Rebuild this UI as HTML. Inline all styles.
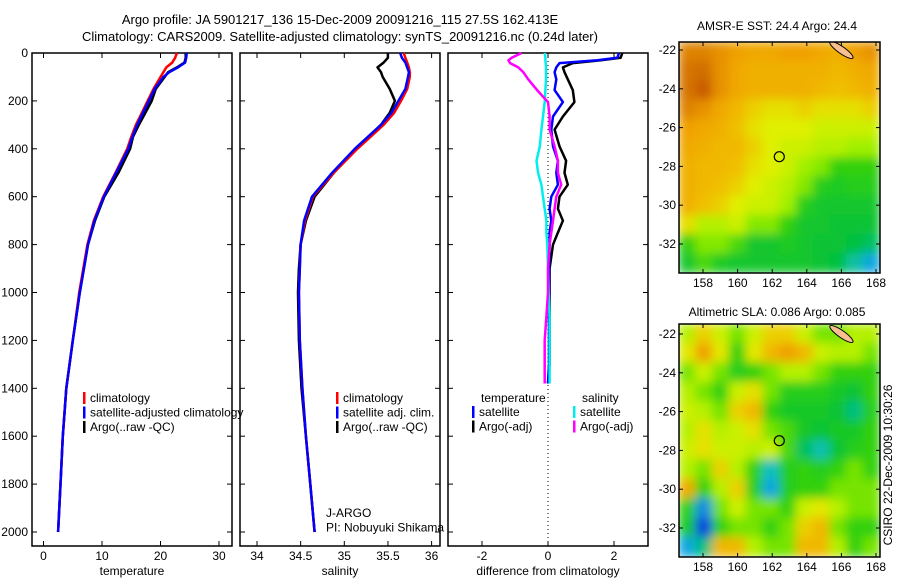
<!DOCTYPE html>
<html><head><meta charset="utf-8"><style>
body{margin:0;background:#fff}
svg{display:block;font-family:"Liberation Sans",sans-serif;font-size:12px}
</style></head><body>
<svg id="fig" width="900" height="580" viewBox="0 0 900 580">
<defs>
<filter id="blur" x="0" y="0" width="1" height="1"><feGaussianBlur stdDeviation="5" edgeMode="duplicate"/></filter>
<clipPath id="c1"><rect x="679" y="42" width="201" height="231"/></clipPath>
<clipPath id="c2"><rect x="679" y="324" width="201" height="233"/></clipPath>
</defs>
<text x="340" y="24" text-anchor="middle" font-size="13">Argo profile: JA 5901217_136 15-Dec-2009 20091216_115 27.5S 162.413E</text>
<text x="340" y="41" text-anchor="middle" font-size="13">Climatology: CARS2009. Satellite-adjusted climatology: synTS_20091216.nc (0.24d later)</text>
<g id="plots"></g>
<text x="777" y="30" text-anchor="middle">AMSR-E SST: 24.4  Argo: 24.4</text>
<text x="777" y="316" text-anchor="middle">Altimetric SLA: 0.086  Argo: 0.085</text>
<text transform="translate(892,465) rotate(-90)" text-anchor="middle">CSIRO 22-Dec-2009 10:30:26</text>
</svg>
<script>
const depth=[0,20,40,60,80,100,150,200,250,300,350,400,500,600,700,800,900,1000,1200,1400,1600,1800,2000];
const tClim=[22.8,22.5,22,21,20.5,20,18.8,17.8,16.8,15.8,15,14.3,12.3,10.2,8.6,7.5,6.8,6.1,5,3.9,3.3,2.9,2.5];
const tSat=[24.5,24.4,24.2,23,21.5,20.5,19,18,17,16,15.2,14.5,12.4,10.3,8.7,7.6,6.9,6.2,5,3.9,3.3,2.9,2.5];
const tArgo=[24.3,24.3,24.1,22.8,21.3,20.7,19.2,18.5,17.4,16.3,15.3,14.8,12.8,10.4,8.8,7.6,6.9,6.2,5,3.9,3.3,2.9,2.5];
const sClim=[35.68,35.7,35.72,35.74,35.75,35.75,35.72,35.65,35.57,35.45,35.3,35.15,34.88,34.64,34.55,34.5,34.49,34.48,34.49,34.52,34.56,34.61,34.66];
const sSat=[35.64,35.66,35.7,35.72,35.74,35.73,35.7,35.62,35.54,35.42,35.27,35.12,34.86,34.63,34.54,34.5,34.49,34.48,34.49,34.52,34.56,34.61,34.66];
const sArgo=[35.5,35.5,35.45,35.38,35.42,35.44,35.52,35.58,35.52,35.42,35.28,35.13,34.88,34.66,34.56,34.5,34.48,34.47,34.48,34.51,34.56,34.61,34.66];
const dDepth=[0,20,30,42,60,80,110,155,205,265,320,390,450,500,550,600,650,700,750,800,900,1000,1100,1200,1300,1380];
const dTArgo=[2.25,2.2,1.6,0.75,0.45,0.5,0.6,0.75,0.8,0.45,0.2,0.35,0.55,0.5,0.6,0.35,0.3,0.45,0.3,0.15,0.05,0.05,0.05,0.05,0.05,0];
const dTSat=[2.15,2.1,1.5,0.35,0.25,0.2,0.25,0.2,0.45,0.15,0.1,0.15,0.3,0.25,0.3,0.1,0.05,0.1,0.05,0.05,0.03,0.03,0.03,0.03,0.03,0];
const dSArgo=[-0.8,-1.1,-1.2,-1.15,-0.9,-0.75,-0.6,-0.33,0,0.05,0.05,0.2,0.3,0.3,0.4,0.25,0.2,0.15,0.1,0.05,0,0,-0.05,-0.1,-0.1,-0.1];
const dSSat=[-0.1,-0.08,-0.08,-0.07,-0.06,-0.06,-0.06,-0.08,-0.1,-0.15,-0.2,-0.25,-0.35,-0.3,-0.2,-0.15,-0.1,-0.05,-0.05,-0.02,0,0.02,0.05,0.05,0.05,0.05];
const depthTicks=[0,200,400,600,800,1000,1200,1400,1600,1800,2000];
const tTicks=[0,10,20,30];
const sTicks=[34,34.5,35,35.5,36];
const dTicks=[-2,0,2];
const lonTicks=[158,160,162,164,166,168];
const latTicks1=[-22,-24,-26,-28,-30,-32];
const latTicks2=[-22,-24,-26,-28,-30,-32];
const sstGrid=[
[.82,.82,.8,.78,.76,.76,.78,.78,.76,.74,.78,.8],
[.84,.85,.8,.76,.74,.74,.74,.74,.74,.72,.74,.76],
[.84,.88,.8,.76,.74,.74,.74,.74,.72,.7,.72,.74],
[.82,.8,.76,.72,.68,.66,.66,.68,.66,.66,.66,.68],
[.78,.76,.74,.7,.66,.64,.64,.64,.62,.62,.62,.62],
[.76,.74,.72,.72,.68,.64,.62,.62,.6,.6,.58,.58],
[.74,.72,.72,.7,.66,.64,.62,.58,.56,.5,.5,.5],
[.74,.72,.7,.68,.64,.62,.6,.56,.48,.46,.48,.48],
[.74,.7,.68,.64,.62,.62,.58,.48,.44,.44,.44,.44],
[.66,.6,.6,.62,.56,.56,.5,.44,.44,.42,.42,.42],
[.5,.56,.56,.52,.44,.44,.46,.44,.42,.42,.4,.38],
[.44,.52,.46,.44,.44,.44,.44,.44,.42,.4,.34,.28]];
const slaGrid=[
[.6,.68,.62,.55,.62,.68,.68,.62,.55,.55,.6,.6],
[.65,.78,.65,.5,.65,.72,.78,.72,.62,.6,.6,.55],
[.55,.62,.55,.48,.5,.55,.6,.6,.55,.5,.5,.5],
[.6,.55,.5,.62,.66,.55,.48,.48,.48,.45,.42,.5],
[.62,.6,.55,.68,.72,.5,.45,.45,.45,.42,.36,.48],
[.6,.66,.6,.62,.66,.55,.52,.45,.42,.45,.45,.5],
[.62,.66,.62,.62,.6,.62,.52,.38,.33,.42,.48,.5],
[.6,.55,.68,.6,.5,.32,.48,.5,.48,.5,.55,.5],
[.75,.5,.6,.68,.48,.28,.48,.5,.5,.55,.55,.55],
[.5,.26,.55,.62,.55,.55,.5,.62,.65,.6,.55,.55],
[.45,.2,.5,.55,.55,.5,.55,.68,.72,.55,.5,.5],
[.28,.36,.72,.72,.6,.55,.55,.72,.72,.6,.5,.55]];

const NS='http://www.w3.org/2000/svg';
const root=document.getElementById('plots');
function mk(tag,attrs,parent){const e=document.createElementNS(NS,tag);for(const k in attrs)e.setAttribute(k,attrs[k]);(parent||root).appendChild(e);return e;}
const Y0=53,Y1=532,BOT=546;
const yD=d=>Y0+(Y1-Y0)*d/2000;
const panels=[
 {x0:32,x1:232,sx:v=>43.5+5.85*v,ticks:tTicks,label:'temperature',name:'temperature'},
 {x0:240,x1:440,sx:v=>257+87.3*(v-34),ticks:sTicks,label:'salinity',name:'salinity'},
 {x0:448,x1:648,sx:v=>548+33*v,ticks:dTicks,label:'difference from climatology',name:'difference'}];
function line(xs,ds,sx,color,name,g){
 const p=mk('polyline',{points:xs.map((v,i)=>sx(v).toFixed(1)+','+yD(ds[i]).toFixed(1)).join(' '),fill:'none',stroke:color,'stroke-width':2.5,'stroke-linejoin':'round'},g);
 
 
}
panels.forEach((P,pi)=>{
 const g=mk('g',{});
 
 
 mk('rect',{x:P.x0,y:Y0,width:P.x1-P.x0,height:BOT-Y0,fill:'none',stroke:'#000','stroke-width':1.5},g);
 depthTicks.forEach(d=>{
  mk('line',{x1:P.x0,x2:P.x0+5,y1:yD(d),y2:yD(d),stroke:'#000'},g);
  mk('line',{x1:P.x1-5,x2:P.x1,y1:yD(d),y2:yD(d),stroke:'#000'},g);
  if(pi===0){const t=mk('text',{x:28,y:yD(d)+4,'text-anchor':'end'},g);t.textContent=d;
   
   }
 });
 P.ticks.forEach(v=>{
  const x=P.sx(v);
  mk('line',{x1:x,x2:x,y1:BOT,y2:BOT-5,stroke:'#000'},g);
  mk('line',{x1:x,x2:x,y1:Y0,y2:Y0+5,stroke:'#000'},g);
  const t=mk('text',{x:x,y:560,'text-anchor':'middle'},g);t.textContent=v;
  
  
 });
 const xl=mk('text',{x:(P.x0+P.x1)/2,y:575,'text-anchor':'middle'},g);xl.textContent=P.label;
 
 
 if(pi===0){line(tArgo,depth,P.sx,'#000','temp-argo-line',g);line(tClim,depth,P.sx,'#f00','temp-climatology-line',g);line(tSat,depth,P.sx,'#00f','temp-satellite-line',g);}
 if(pi===1){line(sArgo,depth,P.sx,'#000','sal-argo-line',g);line(sClim,depth,P.sx,'#f00','sal-climatology-line',g);line(sSat,depth,P.sx,'#00f','sal-satellite-line',g);}
 if(pi===2){
  mk('line',{x1:P.sx(0),x2:P.sx(0),y1:Y0,y2:BOT,stroke:'#000','stroke-dasharray':'1,3'},g);
  line(dTArgo,dDepth,P.sx,'#000','dtemp-argo-line',g);
  line(dTSat,dDepth,P.sx,'#00f','dtemp-satellite-line',g);
  line(dSSat,dDepth,P.sx,'#0ee','dsal-satellite-line',g);
  line(dSArgo,dDepth,P.sx,'#f0f','dsal-argo-line',g);
 }
});
function legend(x,y,items,name){
 const g=mk('g',{});
 
 
 items.forEach((it,i)=>{
  if(it[1])mk('rect',{x:x,y:y+i*14.5-10,width:2.5,height:12,fill:it[1]},g);
  const t=mk('text',{x:x+(it[1]?7:0),y:y+i*14.5},g);t.textContent=it[0];
 });
}
legend(83,402,[['climatology','#f00'],['satellite-adjusted climatology','#00f'],['Argo(..raw -QC)','#000']],'temp-legend');
legend(336,402,[['climatology','#f00'],['satellite adj. clim.','#00f'],['Argo(..raw -QC)','#000']],'sal-legend');
legend(481,402,[['temperature',null]],'diff-legend-temp-head');
legend(472,416,[['satellite','#00f'],['Argo(-adj)','#000']],'diff-legend-temp');
legend(582,402,[['salinity',null]],'diff-legend-sal-head');
legend(573,416,[['satellite','#0ee'],['Argo(-adj)','#f0f']],'diff-legend-sal');
legend(326,517,[['J-ARGO',null],['PI: Nobuyuki Shikama',null]],'pi-label');

function cmap(v){
 const s=[[.2,[16,64,224]],[.3,[16,192,224]],[.4,[0,192,64]],[.5,[48,208,16]],[.58,[160,240,0]],[.64,[224,240,0]],[.7,[240,192,0]],[.78,[240,160,0]],[.85,[208,110,0]],[.92,[190,64,0]]];
 if(v<=s[0][0])return 'rgb('+s[0][1]+')';
 for(let i=1;i<s.length;i++){if(v<=s[i][0]){const f=(v-s[i-1][0])/(s[i][0]-s[i-1][0]);const c=s[i-1][1].map((a,k)=>Math.round(a+(s[i][1][k]-a)*f));return 'rgb('+c+')';}}
 return 'rgb('+s[s.length-1][1]+')';
}
function map(grid,x0,y0,w,h,lat22,lat32,clip,lats,name){
 const g=mk('g',{});
 
 
 const cg=mk('g',{'clip-path':'url(#'+clip+')'},g);
 const fg=mk('g',{filter:'url(#blur)'},cg);
 const lon=v=>703+17.3*(v-158);
 const lat=v=>lat22+(lat32-lat22)*(-22-v)/10;
 const cw=w/grid[0].length,ch=h/grid.length;
 grid.forEach((row,r)=>row.forEach((v,c)=>{
  const e=mk('rect',{x:x0+c*cw-0.5,y:y0+r*ch-0.5,width:cw+1,height:ch+1,fill:cmap(v)},fg);
  
  
 }));
 const isl=mk('ellipse',{cx:lon(166),cy:lat(-22),rx:14,ry:3.5,transform:`rotate(35 ${lon(166)} ${lat(-22)})`,fill:'#f8c090',stroke:'#000'},cg);
 
 
 mk('rect',{x:x0,y:y0,width:w,height:h,fill:'none',stroke:'#000','stroke-width':1.5},g);
 const ci=mk('circle',{cx:lon(162.41),cy:lat(-27.5),r:5,fill:'none',stroke:'#000','stroke-width':1.2},g);
 
 
 lonTicks.forEach(v=>{
  mk('line',{x1:lon(v),x2:lon(v),y1:y0+h,y2:y0+h-4,stroke:'#000'},g);
  mk('line',{x1:lon(v),x2:lon(v),y1:y0,y2:y0+4,stroke:'#000'},g);
  const t=mk('text',{x:lon(v),y:y0+h+14,'text-anchor':'middle'},g);t.textContent=v;
 });
 lats.forEach(v=>{
  mk('line',{x1:x0,x2:x0+4,y1:lat(v),y2:lat(v),stroke:'#000'},g);
  mk('line',{x1:x0+w-4,x2:x0+w,y1:lat(v),y2:lat(v),stroke:'#000'},g);
  const t=mk('text',{x:x0-3,y:lat(v)+4,'text-anchor':'end'},g);t.textContent=v;
 });
}
map(sstGrid,679,42,201,231,50,244,'c1',latTicks1,'sst-map');
map(slaGrid,679,324,201,233,334,528,'c2',latTicks2,'sla-map');
</script>
</body></html>
